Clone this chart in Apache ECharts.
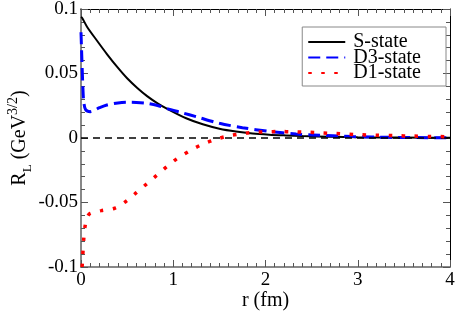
<!DOCTYPE html>
<html><head><meta charset="utf-8">
<script src="https://cdn.jsdelivr.net/npm/echarts@6/dist/echarts.min.js"></script>
<style>html,body{margin:0;padding:0;background:#fff}#c{width:457px;height:311px}</style>
</head><body><div id="c"></div>
<script>
const xTicks = [0, 1, 2, 3, 4];
const yTicks = [-0.1, -0.05, 0, 0.05, 0.1];
const sR = [0.0, 0.011, 0.065, 0.174, 0.283, 0.39, 0.5, 0.61, 0.72, 0.83, 0.93, 1.14, 1.32, 1.5, 1.68, 1.86, 2.04, 2.22, 2.4, 2.7, 3.0, 3.5, 4.0];
const sV = [0.094, 0.0933, 0.0863, 0.0754, 0.0649, 0.0553, 0.0463, 0.0388, 0.0323, 0.0269, 0.0228, 0.0153, 0.0106, 0.0072, 0.005, 0.0035, 0.0026, 0.002, 0.0015, 0.001, 0.0006, 0.0003, 0.0001];
const d3R = [0.0, 0.01, 0.02, 0.03, 0.05, 0.1, 0.2, 0.28, 0.4, 0.5, 0.6, 0.72, 0.83, 0.93, 1.1, 1.25, 1.5, 1.75, 2.04, 2.33, 2.51, 2.95, 3.35, 3.85, 4.0];
const d3V = [0.082, 0.06, 0.04, 0.028, 0.022, 0.0204, 0.0235, 0.0256, 0.0272, 0.0277, 0.0276, 0.0269, 0.0252, 0.0228, 0.0195, 0.0165, 0.0114, 0.008, 0.0051, 0.0031, 0.0024, 0.0011, 0.0005, 0.0002, 0.0001];
const d1R = [0.012, 0.02, 0.03, 0.045, 0.07, 0.1, 0.22, 0.37, 0.49, 0.6, 0.71, 0.82, 0.93, 1.04, 1.17, 1.3, 1.43, 1.57, 1.71, 1.85, 2.0, 2.15, 2.3, 2.45, 2.6, 2.75, 2.9, 3.0, 3.2, 3.4, 3.6, 3.8, 4.0];
const d1V = [-0.1, -0.09, -0.078, -0.068, -0.061, -0.0585, -0.0563, -0.0543, -0.049, -0.0424, -0.0357, -0.029, -0.0222, -0.016, -0.0103, -0.0054, -0.0018, 0.0012, 0.003, 0.0043, 0.0048, 0.005, 0.0048, 0.0045, 0.004, 0.0035, 0.003, 0.0026, 0.0022, 0.0018, 0.0015, 0.0012, 0.001];
const names = ['S-state', 'D3-state', 'D1-state'];
const zip = (a, b) => a.map((x, i) => [x, b[i]]);
const font = 'Liberation Serif';
const chart = echarts.init(document.getElementById('c'), null, {renderer: 'canvas'});
const baseX = {
  type: 'value', min: xTicks[0], max: xTicks[xTicks.length - 1], interval: 1,
  splitLine: {show: false},
  minorTick: {show: true, splitNumber: 10, length: 4, lineStyle: {color: '#555', width: 1}},
  axisTick: {show: true, inside: true, length: 7, lineStyle: {color: '#555', width: 1}}
};
const baseY = {
  type: 'value', min: yTicks[0], max: yTicks[yTicks.length - 1], interval: 0.05,
  splitLine: {show: false},
  minorTick: {show: true, splitNumber: 5, length: 4, lineStyle: {color: '#555', width: 1}},
  axisTick: {show: true, inside: true, length: 7, lineStyle: {color: '#555', width: 1}}
};
chart.setOption({
  animation: false,
  backgroundColor: '#fff',
  grid: {left: 81, right: 7, top: 9, bottom: 44, containLabel: false, outerBoundsMode: 'none'},
  legend: {
    right: 11, top: 27, orient: 'vertical', data: names,
    itemWidth: 37, itemHeight: 10, itemGap: -4.5,
    itemStyle: {opacity: 0},
    borderColor: '#888', borderWidth: 1, padding: [5, 25, 3, 5],
    textStyle: {fontFamily: font, fontSize: 20, color: '#000', padding: [0, 0, 0, 3]}
  },
  xAxis: [
    Object.assign({}, baseX, {
      position: 'bottom',
      axisLine: {onZero: false, lineStyle: {color: '#888', width: 2}},
      axisLabel: {fontFamily: font, fontSize: 19, color: '#000', margin: 4},
      name: 'r (fm)', nameLocation: 'middle', nameGap: 24, nameMoveOverlap: false,
      nameTextStyle: {fontFamily: font, fontSize: 20, color: '#000'}
    }),
    Object.assign({}, baseX, {
      position: 'top',
      axisLine: {onZero: false, lineStyle: {color: '#000', width: 1}},
      axisLabel: {show: false}
    })
  ],
  yAxis: [
    Object.assign({}, baseY, {
      position: 'left',
      axisLine: {onZero: false, lineStyle: {color: '#888', width: 2}},
      axisLabel: {fontFamily: font, fontSize: 19, color: '#000', margin: 3},
      name: '{r|R}{s|L}{r| (GeV}{p|3/2}{r|)}', nameLocation: 'middle', nameGap: 49, nameRotate: 90, nameMoveOverlap: false,
      nameTextStyle: {
        fontFamily: font, fontSize: 20, color: '#000',
        rich: {
          r: {fontFamily: font, fontSize: 20, color: '#000', lineHeight: 24, verticalAlign: 'middle'},
          s: {fontFamily: font, fontSize: 13, color: '#000', verticalAlign: 'bottom', lineHeight: 24, padding: [0, 0, -2, 0]},
          p: {fontFamily: font, fontSize: 14, color: '#000', verticalAlign: 'top', lineHeight: 24, padding: [-2, 0, 0, 0]}
        }
      }
    }),
    Object.assign({}, baseY, {
      position: 'right',
      axisLine: {onZero: false, lineStyle: {color: '#000', width: 1}},
      axisLabel: {show: false}
    })
  ],
  series: [
    {
      name: names[0], type: 'line', showSymbol: false, symbol: 'none', z: 3,
      data: zip(sR, sV), smooth: 0.3,
      lineStyle: {color: '#000', width: 2},
      itemStyle: {color: '#000'},
      markLine: {
        silent: true, symbol: 'none', label: {show: false},
        lineStyle: {color: '#000', type: [7, 5], width: 1.5},
        data: [{yAxis: 0}]
      }
    },
    {
      name: names[1], type: 'line', showSymbol: false, symbol: 'none', z: 4,
      data: zip(d3R, d3V), smooth: 0.3,
      lineStyle: {color: '#0000ff', width: 3, type: [12, 6]},
      itemStyle: {color: '#0000ff'}
    },
    {
      name: names[2], type: 'line', showSymbol: false, symbol: 'none', z: 5,
      data: zip(d1R, d1V), smooth: 0.3,
      lineStyle: {color: '#ff0000', width: 3.5, type: [3.5, 9.5], cap: 'butt'},
      itemStyle: {color: '#ff0000'}
    }
  ]
});
</script></body></html>
